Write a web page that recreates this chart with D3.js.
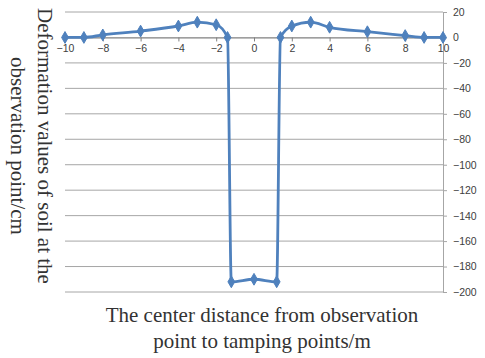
<!DOCTYPE html>
<html>
<head>
<meta charset="utf-8">
<script src="https://cdn.jsdelivr.net/npm/d3@7"></script>
<style>
  html, body { margin: 0; padding: 0; background: #fff; }
  svg { display: block; }
</style>
</head>
<body>
<svg id="chart" width="485" height="358"></svg>
<script>
// Distance from the tamping point (m) and measured soil deformation (cm)
const distances = [-10, -9, -8, -6, -4, -3, -2, -1.4, -1.2, 0, 1.2, 1.4, 2, 3, 4, 6, 8, 9, 10];
const deformation = [0, 0, 2, 5, 9, 12, 10, 0, -192, -190, -192, 0, 9, 12, 8, 4.5, 1.5, 0, 0];
const xTicks = [-10, -8, -6, -4, -2, 0, 2, 4, 6, 8, 10];
const yTicks = [20, 0, -20, -40, -60, -80, -100, -120, -140, -160, -180, -200];
const yTitle = ["Deformation values of soil at the", "observation point/cm"];
const xTitle = ["The center distance from observation", "point to tamping points/m"];

(function drawChart() {
  const svg = d3.select("#chart");
  const plotLeft = 65, plotRight = 443, plotTop = 12, plotBottom = 292;

  const x = d3.scaleLinear().domain([-10, 10]).range([plotLeft, plotRight]);
  const y = d3.scaleLinear().domain([-200, 20]).range([plotBottom, plotTop]);

  const tickFont = "Liberation Sans, Arial, sans-serif";
  const titleFont = "Liberation Serif, Times New Roman, serif";

  // horizontal gridlines
  svg.append("g")
    .selectAll("line")
    .data(yTicks.filter(d => d !== 0))
    .join("line")
    .attr("x1", plotLeft).attr("x2", plotRight)
    .attr("y1", d => y(d)).attr("y2", d => y(d))
    .attr("stroke", "#a6a6a6").attr("stroke-width", 1);

  // right value axis
  const yAxis = svg.append("g")
    .attr("transform", `translate(${plotRight},0)`)
    .call(d3.axisRight(y).tickValues(yTicks).tickSize(4).tickPadding(6).tickFormat(d3.format("d")));
  yAxis.select(".domain").attr("stroke", "#a6a6a6");
  yAxis.selectAll(".tick line").attr("stroke", "#a6a6a6");
  yAxis.selectAll(".tick text")
    .attr("fill", "#404040").attr("font-family", tickFont).attr("font-size", 10.5);

  // horizontal category axis crossing at zero
  const xAxis = svg.append("g")
    .attr("transform", `translate(0,${y(0)})`)
    .call(d3.axisBottom(x).tickValues(xTicks).tickSize(4).tickPadding(3).tickFormat(d3.format("d")));
  xAxis.select(".domain").attr("stroke", "#808080").attr("stroke-width", 1.2);
  xAxis.selectAll(".tick line").attr("stroke", "#808080");
  xAxis.selectAll(".tick text")
    .attr("fill", "#404040").attr("font-family", tickFont).attr("font-size", 10.5);

  // smoothed data line
  const pts = distances.map((d, i) => [d, deformation[i]]);
  const line = d3.line()
    .x(d => x(d[0])).y(d => y(d[1]))
    .curve(d3.curveMonotoneX);

  const blue = "#4f81bd";
  svg.append("path")
    .datum(pts)
    .attr("d", line)
    .attr("fill", "none")
    .attr("stroke", blue)
    .attr("stroke-width", 2.8)
    .attr("stroke-linejoin", "round");

  // diamond markers
  svg.append("g")
    .selectAll("path")
    .data(pts)
    .join("path")
    .attr("transform", d => `translate(${x(d[0])},${y(d[1])})`)
    .attr("d", d3.symbol(d3.symbolDiamond, 40))
    .attr("fill", blue)
    .attr("stroke", blue);

  // vertical axis title (rotated, two lines)
  const yt = svg.append("text")
    .attr("transform", "translate(38,146) rotate(90)")
    .attr("text-anchor", "middle")
    .attr("font-family", titleFont)
    .attr("font-size", 21)
    .attr("fill", "#333");
  yt.selectAll("tspan").data(yTitle).join("tspan")
    .attr("x", 0)
    .attr("y", (d, i) => i * 27)
    .text(d => d);

  // horizontal axis title
  const xt = svg.append("text")
    .attr("text-anchor", "middle")
    .attr("font-family", titleFont)
    .attr("font-size", 21)
    .attr("fill", "#333");
  xt.selectAll("tspan").data(xTitle).join("tspan")
    .attr("x", 262)
    .attr("y", (d, i) => 322 + i * 26)
    .text(d => d);
})();
</script>
</body>
</html>
